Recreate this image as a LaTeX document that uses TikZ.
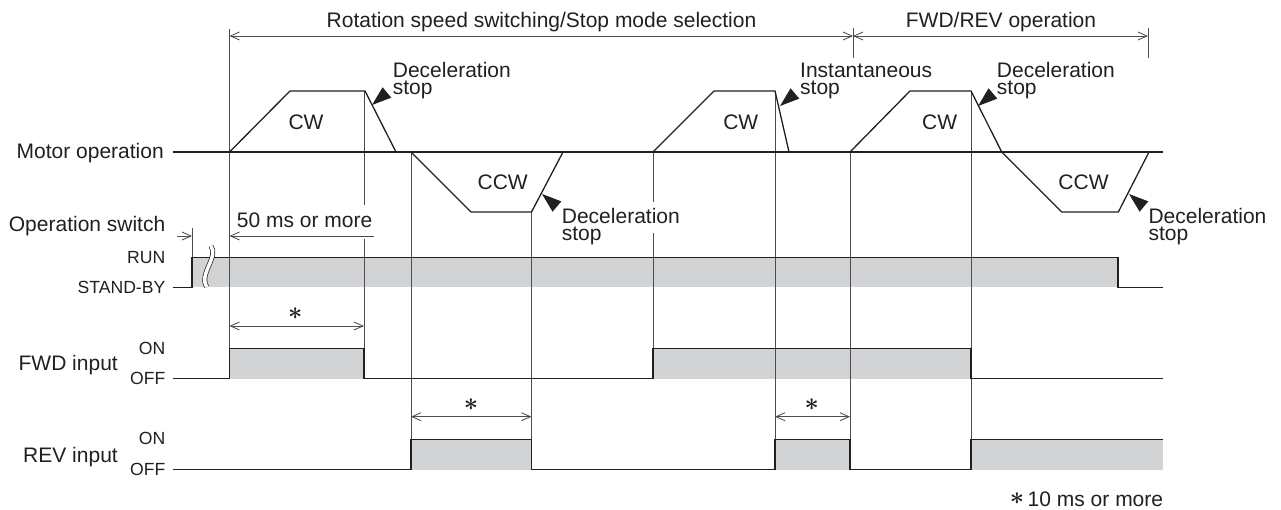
\documentclass[tikz,border=0pt]{standalone}
\usepackage{fontspec}
\setmainfont{Liberation Sans}
\usetikzlibrary{arrows.meta}
\definecolor{fg}{HTML}{231F20}
\definecolor{gridc}{HTML}{4D4D4F}
\definecolor{band}{HTML}{D1D3D4}
\begin{document}
\begin{tikzpicture}[x=1pt,y=-1pt,
  sig/.style={draw=fg,line width=1.3pt,line join=miter},
  gridl/.style={draw=gridc,line width=0.85pt},
  barb/.tip={Straight Barb[length=9pt,width=8pt]},
  dim/.style={gridl,barb-barb},
  lbl/.style={font=\fontsize{21}{21}\selectfont,text=fg,inner sep=0pt},
  sml/.style={font=\fontsize{17.6}{17.6}\selectfont,text=fg,inner sep=0pt},
  ast/.style={font=\fontsize{26}{26}\selectfont\boldmath,text=fg,inner sep=0pt},
  stoptri/.pic={\fill[fg] (0,0) -- (19.5,6.75) -- (19.5,-6.75) -- cycle;}
]
\useasboundingbox (0,0) rectangle (1281,510);

% ---------- grey bands ----------
\fill[band] (192,257.5) rectangle (1118,287.5);
\fill[band] (229.5,348.5) rectangle (364,378.5);
\fill[band] (653,348.5) rectangle (971,378.5);
\fill[band] (411,439.5) rectangle (531.5,469.5);
\fill[band] (775,439.5) rectangle (850,469.5);
\fill[band] (971,439.5) rectangle (1163,469.5);

% ---------- grid / extension lines ----------
\draw[gridl] (229.5,29) -- (229.5,378.5);
\draw[gridl] (364,91) -- (364,205);
\draw[gridl] (364,239) -- (364,378.5);
\draw[gridl] (411,152) -- (411,469.5);
\draw[gridl] (531.5,212) -- (531.5,469.5);
\draw[gridl] (653,152) -- (653,202);
\draw[gridl] (653,233) -- (653,378.5);
\draw[gridl] (775,91) -- (775,469.5);
\draw[gridl] (850,152) -- (850,469.5);
\draw[gridl] (971,91) -- (971,469.5);
\draw[gridl] (853,28) -- (853,58);
\draw[gridl] (1148,28) -- (1148,58);
\draw[gridl] (192,228) -- (192,287.5);

% ---------- dimension arrows ----------
\coordinate (dA) at (229.5,36);
\coordinate (dB) at (853,36);
\coordinate (dC) at (1148,36);
\draw[dim] (dA) -- (dB);
\draw[dim] (dB) -- (dC);
\coordinate (fA) at (177,236);
\coordinate (fB) at (192,236);
\coordinate (fC) at (229.5,236);
\coordinate (fD) at (374,236);
\draw[gridl,-barb] (fA) -- (fB);
\draw[gridl,-barb] (fD) -- (fC);
\draw[dim] (229.5,326) -- (364,326);
\draw[dim] (411,416.7) -- (531.5,416.7);
\draw[dim] (775,416.7) -- (850,416.7);

% ---------- motor operation ----------
\draw[sig] (173,152) -- (1163,152);
\draw[sig] (229.5,152) -- (290,91) -- (365,91) -- (396,152);
\draw[sig] (411,152) -- (471,212) -- (531.5,212) -- (563,152);
\draw[sig] (653,152) -- (714,91) -- (775,91) -- (789,152);
\draw[sig] (850,152) -- (910,91) -- (971,91) -- (1001.7,152);
\draw[sig] (1001.7,152) -- (1061.7,212) -- (1118.3,212) -- (1149,152);

% ---------- operation switch ----------
\draw[sig] (173,287.5) -- (192,287.5) -- (192,257.5) -- (1118,257.5) -- (1118,287.5) -- (1163,287.5);
\draw[fg, line width=0.7pt, double=white, double distance=3.5pt]
  (211,246) .. controls (219,257) and (198,275) .. (207,287);

% ---------- FWD input ----------
\draw[sig] (173,378.5) -- (229.5,378.5) -- (229.5,348.5) -- (364,348.5) -- (364,378.5)
  -- (653,378.5) -- (653,348.5) -- (971,348.5) -- (971,378.5) -- (1163,378.5);

% ---------- REV input ----------
\draw[sig] (173,469.5) -- (411,469.5) -- (411,439.5) -- (531.5,439.5) -- (531.5,469.5)
  -- (775,469.5) -- (775,439.5) -- (850,439.5) -- (850,469.5) -- (971,469.5)
  -- (971,439.5) -- (1163,439.5);

% ---------- stop pointers ----------
\pic[rotate=40] at (372,105) {stoptri};
\pic[rotate=40] at (780,106) {stoptri};
\pic[rotate=40] at (978,106) {stoptri};
\pic[rotate=-40] at (542,194) {stoptri};
\pic[rotate=-40] at (1129,194) {stoptri};

% ---------- texts ----------
\node[lbl,anchor=base] (t1) at (541.5,28) {Rotation speed switching/Stop mode selection};
\node[lbl,anchor=base] (t2) at (1001,28) {FWD/REV operation};

\node[lbl,anchor=base east] (l1) at (164,159) {Motor operation};
\node[lbl,anchor=base east] (l2) at (165.5,231.5) {Operation switch};
\node[sml,anchor=base east] (l3) at (165.5,263.3) {RUN};
\node[sml,anchor=base east] (l4) at (165.5,293.3) {STAND-BY};
\node[lbl,anchor=base east] (l5) at (118,370.5) {FWD input};
\node[sml,anchor=base east] (l6) at (165.5,354.3) {ON};
\node[sml,anchor=base east] (l7) at (165.5,384.3) {OFF};
\node[lbl,anchor=base east] (l8) at (118,462) {REV input};
\node[sml,anchor=base east] (l9) at (165.5,444.3) {ON};
\node[sml,anchor=base east] (l10) at (165.5,475.7) {OFF};

\node[lbl,anchor=base west] (ms50) at (236.7,227.7) {50 ms or more};

\node[lbl,anchor=base] (cw1) at (306,129.3) {CW};
\node[lbl,anchor=base] (cw2) at (740.8,129.3) {CW};
\node[lbl,anchor=base] (cw3) at (939.7,129.3) {CW};
\node[lbl,anchor=base] (ccw1) at (502.7,190) {CCW};
\node[lbl,anchor=base] (ccw2) at (1083.5,190) {CCW};

\node[lbl,anchor=base west] (s1a) at (392.7,77.7) {Deceleration};
\node[lbl,anchor=base west] (s1b) at (392.7,94.3) {stop};
\node[lbl,anchor=base west] (s2a) at (800,77.7) {Instantaneous};
\node[lbl,anchor=base west] (s2b) at (800,94.3) {stop};
\node[lbl,anchor=base west] (s3a) at (996.7,77.7) {Deceleration};
\node[lbl,anchor=base west] (s3b) at (996.7,94.3) {stop};
\node[lbl,anchor=base west] (s4a) at (561.7,224) {Deceleration};
\node[lbl,anchor=base west] (s4b) at (561.7,241) {stop};
\node[lbl,anchor=base west] (s5a) at (1148.3,224) {Deceleration};
\node[lbl,anchor=base west] (s5b) at (1148.3,241) {stop};

\node[ast] (a1) at (295.3,313.7) {$\ast$};
\node[ast] (a2) at (471,404.3) {$\ast$};
\node[ast] (a3) at (811.7,404.3) {$\ast$};

\node[lbl,anchor=base east] (foot) at (1163.3,506) {\raisebox{2pt}{\fontsize{27}{27}\selectfont\boldmath$\ast$}\,10 ms or more};
\end{tikzpicture}
\end{document}
